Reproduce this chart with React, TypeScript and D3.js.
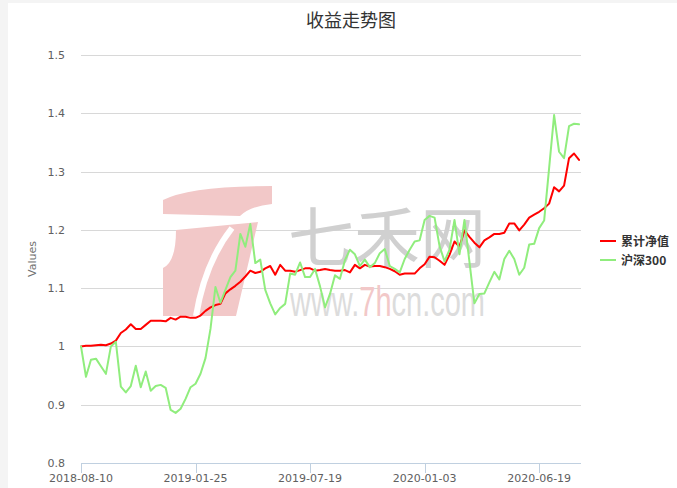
import React from "react";
import * as d3 from "d3";

const tickLabels = ["2018-08-10", "2019-01-25", "2019-07-19", "2020-01-03", "2020-06-19"];
const tickIndices = [0, 23, 46, 69, 92];
const yTicks = [0.8, 0.9, 1.0, 1.1, 1.2, 1.3, 1.4, 1.5];
const seriesNames = ["累计净值", "沪深300"];
const seriesColors = ["#ff0000", "#90ed7d"];

const navValues = [
  1.0, 1.001, 1.001, 1.002, 1.003, 1.002, 1.005, 1.01, 1.023, 1.029,
  1.038, 1.03, 1.03, 1.037, 1.044, 1.044, 1.044, 1.043, 1.049, 1.046,
  1.051, 1.051, 1.049, 1.049, 1.053, 1.061, 1.067, 1.071, 1.073, 1.091,
  1.098, 1.104, 1.111, 1.12, 1.13, 1.126, 1.128, 1.134, 1.138, 1.123,
  1.14, 1.13, 1.13, 1.128, 1.131, 1.134, 1.134, 1.13, 1.131, 1.133,
  1.131, 1.13, 1.13, 1.131, 1.127, 1.14, 1.134, 1.14, 1.137, 1.138,
  1.138, 1.136, 1.133, 1.129, 1.123, 1.125, 1.125, 1.125, 1.134, 1.141,
  1.154, 1.153, 1.147, 1.14, 1.157, 1.18, 1.171, 1.199, 1.188, 1.178,
  1.17, 1.182, 1.187, 1.193, 1.193, 1.195, 1.211, 1.211, 1.199, 1.209,
  1.221, 1.226, 1.231, 1.237, 1.245, 1.273, 1.266, 1.276, 1.323, 1.331,
  1.32,
];

const hs300Values = [
  1.0, 0.948, 0.977, 0.979, 0.966, 0.953, 1.0, 1.008, 0.931, 0.921,
  0.932, 0.967, 0.93, 0.957, 0.924, 0.932, 0.934, 0.929, 0.891, 0.886,
  0.893, 0.91, 0.93, 0.936, 0.953, 0.98, 1.03, 1.102, 1.075, 1.097,
  1.119, 1.13, 1.193, 1.171, 1.21, 1.143, 1.149, 1.097, 1.074, 1.055,
  1.066, 1.073, 1.125, 1.123, 1.144, 1.119, 1.119, 1.133, 1.103, 1.067,
  1.09, 1.122, 1.116, 1.148, 1.166, 1.158, 1.138, 1.149, 1.136, 1.143,
  1.16, 1.167, 1.138, 1.133, 1.127, 1.15, 1.166, 1.18, 1.182, 1.217,
  1.224, 1.221, 1.172, 1.146, 1.166, 1.217, 1.158, 1.217, 1.145, 1.074,
  1.09, 1.091, 1.11, 1.128, 1.115, 1.15, 1.164, 1.15, 1.123, 1.135,
  1.175, 1.176, 1.203, 1.216, 1.306, 1.397, 1.334, 1.323, 1.378, 1.382,
  1.381,
];

const W = 677;
const H = 488;
const plotLeft = 81;
const plotRight = 581;
const plotTop = 55;
const plotBottom = 463;
const labelFont = "'DejaVu Sans', sans-serif";
const cjkFont = "'Noto Sans CJK SC', sans-serif";

export default function App() {
  const x = d3.scaleLinear().domain([0, navValues.length - 1]).range([plotLeft, 579]);
  const y = d3.scaleLinear().domain([0.8, 1.5]).range([plotBottom, plotTop]);
  const line = d3
    .line<number>()
    .x((_, i) => x(i))
    .y((d) => y(d));
  const series = [navValues, hs300Values];

  return (
    <svg
      width={W}
      height={H}
      style={{ position: "absolute", left: 0, top: 0, display: "block" }}
    >
      <rect x={0} y={0} width={W} height={H} fill="#f4f4f4" />
      <rect x={8} y={3} width={W - 8} height={H - 3} fill="#ffffff" />

      {/* title */}
      <text
        x={351}
        y={27}
        textAnchor="middle"
        fontFamily={cjkFont}
        fontSize={18}
        fill="#333333"
      >
        收益走势图
      </text>

      {/* grid lines and y labels */}
      {yTicks.map((t) => (
        <g key={t}>
          {t > 0.8 && (
            <line
              x1={plotLeft}
              x2={plotRight}
              y1={Math.round(y(t)) + 0.5}
              y2={Math.round(y(t)) + 0.5}
              stroke="#d8d8d8"
              strokeWidth={1}
            />
          )}
          <text
            x={65}
            y={y(t) + 4}
            textAnchor="end"
            fontFamily={labelFont}
            fontSize={11}
            fill="#606060"
          >
            {d3.format("")(Math.round(t * 10) / 10)}
          </text>
        </g>
      ))}

      {/* y axis title */}
      <text
        transform={`translate(36, ${(plotTop + plotBottom) / 2}) rotate(-90)`}
        textAnchor="middle"
        fontFamily={labelFont}
        fontSize={11}
        fill="#707070"
      >
        Values
      </text>

      {/* watermark */}
      <g>
        <path
          d="M163,200 Q190,186 272,186 L272,204 Q250,206 240,216 L163,214 Z"
          fill="#f2c8c8"
        />
        <path
          d="M176,230 L258,222 L236,316 L163,316 L163,268 Q176,262 176,230 Z"
          fill="#f2c8c8"
        />
        <path
          d="M196,316 Q205,262 232,228"
          fill="none"
          stroke="#ffffff"
          strokeWidth={6}
        />
        <text
          x={288}
          y={262}
          fontFamily={cjkFont}
          fontSize={66}
          fill="#d0d0d0"
          textLength={198}
          lengthAdjust="spacing"
        >
          七禾网
        </text>
        <text
          transform="translate(290, 316) scale(1, 1.45)"
          fontFamily="'Liberation Sans', sans-serif"
          fontSize={29}
          fill="#dcdcdc"
        >
          www.<tspan fill="#f2c8c8">7h</tspan>cn.com
        </text>
      </g>

      {/* x axis */}
      <line
        x1={plotLeft}
        x2={plotRight}
        y1={plotBottom + 0.5}
        y2={plotBottom + 0.5}
        stroke="#c0d0e0"
        strokeWidth={1}
      />
      {tickIndices.map((ti, k) => (
        <g key={ti}>
          <line
            x1={Math.round(x(ti)) + 0.5}
            x2={Math.round(x(ti)) + 0.5}
            y1={plotBottom}
            y2={plotBottom + 10}
            stroke="#c0d0e0"
            strokeWidth={1}
          />
          <text
            x={x(ti)}
            y={482}
            textAnchor="middle"
            fontFamily={labelFont}
            fontSize={11}
            fill="#606060"
          >
            {tickLabels[k]}
          </text>
        </g>
      ))}

      {/* series */}
      {series.map((s, k) => (
        <path
          key={k}
          d={line(s) || ""}
          fill="none"
          stroke={seriesColors[k]}
          strokeWidth={2}
          strokeLinejoin="round"
          strokeLinecap="round"
        />
      ))}

      {/* legend */}
      {seriesNames.map((name, k) => (
        <g key={name} transform={`translate(600, ${241 + k * 19})`}>
          <line x1={0} x2={16} y1={0} y2={0} stroke={seriesColors[k]} strokeWidth={2} />
          <text
            x={21}
            y={4.5}
            fontFamily={cjkFont}
            fontSize={12}
            fontWeight="bold"
            fill="#333333"
          >
            {name}
          </text>
        </g>
      ))}
    </svg>
  );
}
